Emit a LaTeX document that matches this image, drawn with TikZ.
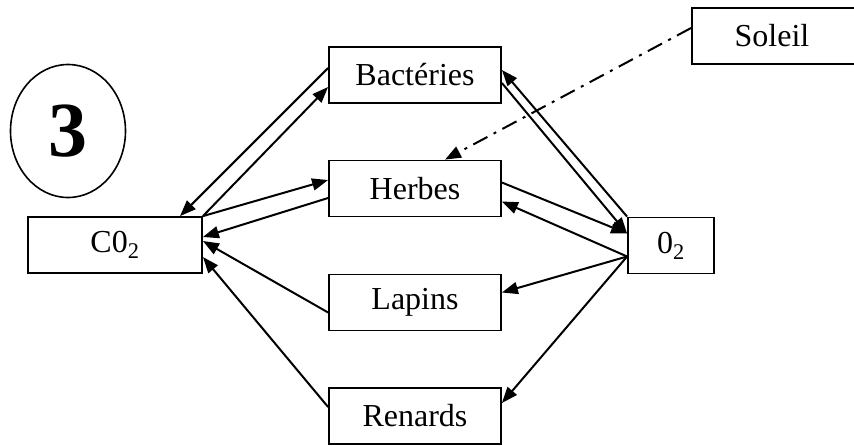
\documentclass[tikz,border=0pt]{standalone}
\usepackage{fontspec}
\setmainfont{Liberation Serif}
\usetikzlibrary{arrows.meta,shapes.geometric}
\begin{document}
\begin{tikzpicture}[x=1pt,y=-1pt,
  box/.style={draw,line width=1.8pt,inner sep=0pt,minimum height=56pt,font=\fontsize{32}{36}\selectfont},
  arr/.style={line width=2pt,-{Triangle[length=16pt,width=12pt]}},
  sun/.style={line width=2pt,dash pattern=on 16pt off 7pt on 3pt off 7pt,-{Triangle[length=16pt,width=12pt]}}]
\useasboundingbox (0,0) rectangle (854,445);
\node[draw,line width=1.6pt,ellipse,minimum width=115pt,minimum height=133pt,inner sep=0pt,font=\fontsize{78}{82}\selectfont\bfseries] (three) at (68,131) {3};
\node[box,minimum width=172pt] (bact) at (415,75) {Bactéries};
\node[box,minimum width=172pt] (herb) at (415,188.5) {Herbes};
\node[box,minimum width=172pt] (lap) at (415,302.5) {Lapins};
\node[box,minimum width=172pt] (ren) at (415,416) {Renards};
\node[box,minimum width=174pt] (co2) at (115,245) {C0\textsubscript{2}};
\node[box,minimum width=86pt] (o2) at (671,245.5) {0\textsubscript{2}};
\node[box,minimum width=168pt] (sol) at (776,36) {\hspace*{-8pt}Soleil};
% CO2 <-> Bacteries
\draw[arr] (co2.north east) -- ([yshift=-12pt]bact.west);
\draw[arr] ([yshift=7pt]bact.west) -- ([xshift=65pt]co2.north);
% CO2 <-> Herbes
\draw[arr] (co2.north east) -- ([yshift=8.5pt]herb.west);
\draw[arr] ([yshift=-9.5pt]herb.west) -- ([yshift=8pt]co2.east);
% Lapins, Renards -> CO2
\draw[arr] ([yshift=-10pt]lap.west) -- ([yshift=4pt]co2.east);
\draw[arr] ([yshift=9pt]ren.west) -- ([yshift=-12pt]co2.east);
% Herbes <-> O2
\draw[arr] ([yshift=6pt]herb.east) -- ([yshift=12pt]o2.west);
\draw[arr] ([yshift=-11pt]o2.west) -- ([yshift=-13pt]herb.east);
% O2 -> Lapins, Renards
\draw[arr] ([yshift=-11pt]o2.west) -- ([yshift=10pt]lap.east);
\draw[arr] ([yshift=-11pt]o2.west) -- ([yshift=13pt]ren.east);
% Bacteries <-> O2
\draw[arr] ([yshift=-8pt]bact.east) -- ([yshift=12pt]o2.west);
\draw[arr] (o2.north west) -- ([yshift=5pt]bact.east);
% Soleil -> Herbes
\draw[sun] ([yshift=8pt]sol.west) -- ([xshift=30pt]herb.north);
\end{tikzpicture}
\end{document}
